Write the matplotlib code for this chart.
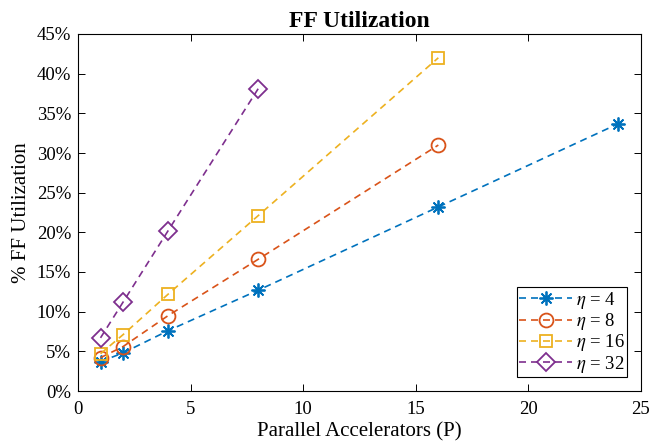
import numpy as np
import matplotlib
matplotlib.use("Agg")
import matplotlib.pyplot as plt
from matplotlib.ticker import FuncFormatter

plt.rcParams['font.family'] = ['Liberation Serif', 'DejaVu Serif']
plt.rcParams['mathtext.fontset'] = 'stix'

# data (percent)
p4 = [1, 2, 4, 8, 16, 24]
u4 = [3.7, 4.8, 7.6, 12.7, 23.2, 33.7]
p8 = [1, 2, 4, 8, 16]
u8 = [4.2, 5.6, 9.5, 16.6, 31.0]
p16 = [1, 2, 4, 8, 16]
u16 = [4.7, 7.1, 12.2, 22.1, 42.0]
p32 = [1, 2, 4, 8]
u32 = [6.7, 11.2, 20.2, 38.1]

colors = ['#0072BD', '#D95319', '#EDB120', '#7E2F8E']
dash = (4.2, 3.0)

fig = plt.figure(figsize=(6.67, 4.46), dpi=100)
ax = fig.add_axes([78 / 667, (446 - 391) / 446, (641 - 78) / 667, (391 - 34) / 446])

ax.plot(p4, u4, '--', dashes=dash, marker=(8, 2, 0), color=colors[0], markersize=10, lw=1.2,
        mew=1.3, label=r'$\eta$ = 4')
ax.plot(p8, u8, '--', dashes=dash, marker='o', color=colors[1], markersize=10, lw=1.2,
        mew=1.3, markerfacecolor='none', label=r'$\eta$ = 8')
ax.plot(p16, u16, '--', dashes=dash, marker='s', color=colors[2], markersize=8, lw=1.2,
        mew=1.3, markerfacecolor='none', label=r'$\eta$ = 16')
ax.plot(p32, u32, '--', dashes=dash, marker='D', color=colors[3], markersize=9, lw=1.2,
        mew=1.3, markerfacecolor='none', label=r'$\eta$ = 32')

ax.set_xlim(0, 25)
ax.set_ylim(0, 45)
ax.set_xticks(np.arange(0, 26, 5))
ax.set_yticks(np.arange(0, 46, 5))
ax.yaxis.set_major_formatter(FuncFormatter(lambda v, pos: '%d%%' % v))
ax.tick_params(direction='in', top=True, right=True, labelsize=13.5, length=5, width=0.7)
ax.tick_params(axis='x', pad=7)
ax.tick_params(axis='y', pad=5)
for s in ax.spines.values():
    s.set_linewidth(0.8)

ax.set_xlabel('Parallel Accelerators (P)', fontsize=15, labelpad=3)
ax.set_ylabel('% FF Utilization', fontsize=15, labelpad=4)
ax.set_title('FF Utilization', fontsize=17, fontweight='bold', pad=5)

leg = ax.legend(loc='lower right', fontsize=13.5, fancybox=False, edgecolor='black',
                framealpha=1, handlelength=2.8, borderpad=0.12, labelspacing=0.02,
                handletextpad=0.2, borderaxespad=0, bbox_to_anchor=(0.975, 0.039))
leg.get_frame().set_linewidth(0.8)

fig.savefig('out.png', dpi=100)
